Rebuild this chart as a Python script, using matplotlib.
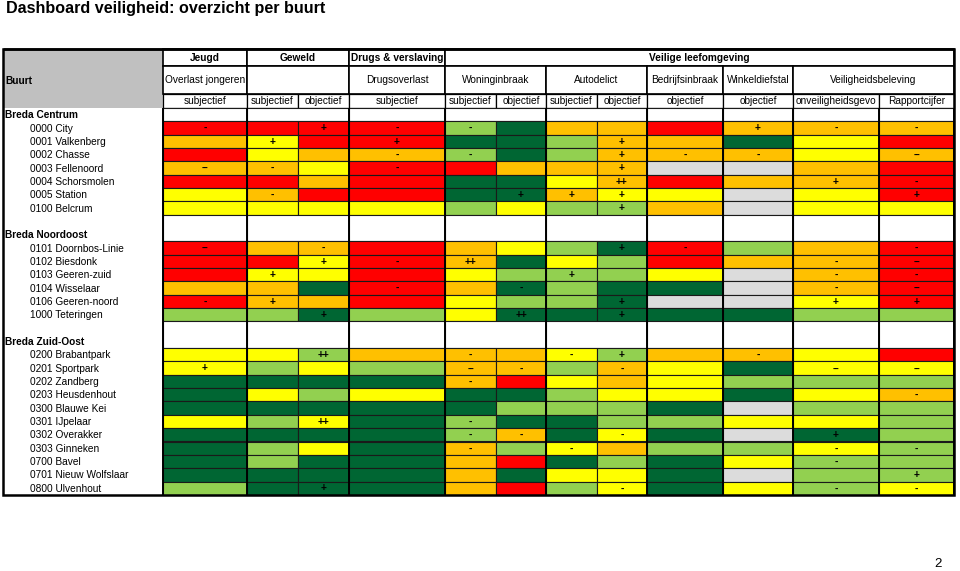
import matplotlib
matplotlib.use("Agg")
import matplotlib.pyplot as plt
from matplotlib.patches import Rectangle

# ---------------- data ----------------
title = "Dashboard veiligheid: overzicht per buurt"
header_label = "Buurt"
themes = ["Jeugd", "Geweld", "Drugs & verslaving", "Veilige leefomgeving"]
theme_spans = [1, 2, 1, 8]
topics = ["Overlast jongeren", "", "Drugsoverlast", "Woninginbraak", "Autodelict",
          "Bedrijfsinbraak", "Winkeldiefstal", "Veiligheidsbeleving"]
topic_spans = [1, 2, 1, 2, 2, 1, 1, 2]
measures = ["subjectief", "subjectief", "objectief", "subjectief", "subjectief", "objectief",
            "subjectief", "objectief", "objectief", "objectief", "onveiligheidsgevo", "Rapportcijfer"]

sections = ["Breda Centrum", "Breda Noordoost", "Breda Zuid-Oost"]

centrum_names = ["0000 City", "0001 Valkenberg", "0002 Chasse", "0003 Fellenoord",
                 "0004 Schorsmolen", "0005 Station", "0100 Belcrum"]
centrum_colors = ["RRRRLGOOROOO",
                  "OYRRGGLOOGYR",
                  "RYOOLGLOOOYO",
                  "OOYRROOOXXOR",
                  "RRORGGYOROOR",
                  "YORRGGOYYXYR",
                  "YYYYLYLLOXYY"]
centrum_signs = [["-", "", "+", "-", "-", "", "", "", "", "+", "-", "-"],
                 ["", "+", "", "+", "", "", "", "+", "", "", "", ""],
                 ["", "", "", "-", "-", "", "", "+", "-", "-", "", "--"],
                 ["--", "-", "", "-", "", "", "", "+", "", "", "", ""],
                 ["", "", "", "", "", "", "", "++", "", "", "+", "-"],
                 ["", "-", "", "", "", "+", "+", "+", "", "", "", "+"],
                 ["", "", "", "", "", "", "", "+", "", "", "", ""]]

noordoost_names = ["0101 Doornbos-Linie", "0102 Biesdonk", "0103 Geeren-zuid",
                   "0104 Wisselaar", "0106 Geeren-noord", "1000 Teteringen"]
noordoost_colors = ["ROOROYLGRLOR",
                    "RRYROGYLROOR",
                    "RYYRYLLLYXOR",
                    "OOGROGLGGXOR",
                    "ROORYLLGXXYR",
                    "LLGLYGGGGGLL"]
noordoost_signs = [["--", "", "-", "", "", "", "", "+", "-", "", "", "-"],
                   ["", "", "+", "-", "++", "", "", "", "", "", "-", "--"],
                   ["", "+", "", "", "", "", "+", "", "", "", "-", "-"],
                   ["", "", "", "-", "", "-", "", "", "", "", "-", "--"],
                   ["-", "+", "", "", "", "", "", "+", "", "", "+", "+"],
                   ["", "", "+", "", "", "++", "", "+", "", "", "", ""]]

zuidoost_names = ["0200 Brabantpark", "0201 Sportpark", "0202 Zandberg", "0203 Heusdenhout",
                  "0300 Blauwe Kei", "0301 IJpelaar", "0302 Overakker", "0303 Ginneken",
                  "0700 Bavel", "0701 Nieuw Wolfslaar", "0800 Ulvenhout"]
zuidoost_colors = ["YYLOOOYLOOYR",
                   "YLYLOOLOYGYY",
                   "GGGGORYOYLLL",
                   "GYLYGGLYYGYO",
                   "GGGGGLLLGXLL",
                   "YLYGLGGLLYYL",
                   "GGGGLOGYGXGL",
                   "GLYGOLYOLLYL",
                   "GLGGORGLGYLL",
                   "GGGGOGYYGXLL",
                   "LGGGORLYGYLY"]
zuidoost_signs = [["", "", "++", "", "-", "", "-", "+", "", "-", "", ""],
                  ["+", "", "", "", "--", "-", "", "-", "", "", "--", "--"],
                  ["", "", "", "", "-", "", "", "", "", "", "", ""],
                  ["", "", "", "", "", "", "", "", "", "", "", "-"],
                  ["", "", "", "", "", "", "", "", "", "", "", ""],
                  ["", "", "++", "", "-", "", "", "", "", "", "", ""],
                  ["", "", "", "", "-", "-", "", "-", "", "", "+", ""],
                  ["", "", "", "", "-", "", "-", "", "", "", "-", "-"],
                  ["", "", "", "", "", "", "", "", "", "", "-", ""],
                  ["", "", "", "", "", "", "", "", "", "", "", "+"],
                  ["", "", "+", "", "", "", "", "-", "", "", "-", "-"]]

page_number = "2"

# ---------------- style / layout ----------------
palette = {"R": "#FF0000", "O": "#FFC000", "Y": "#FFFF00", "L": "#92D050",
           "G": "#006633", "X": "#DCDCDC"}
FONT = "Liberation Sans"
W, H = 960, 571
left = 3
col_edges = [163, 247, 298, 349, 445, 496, 546, 597, 647, 723, 793, 879, 954]
group_lines = [163, 247, 349, 445, 546, 647, 723, 793, 879, 954]
head_y = [49, 66, 94, 108]
row_h = 13.34
body_top = head_y[-1]

fig = plt.figure(figsize=(W / 100, H / 100), dpi=100)
ax = fig.add_axes([0, 0, 1, 1])
ax.set_xlim(0, W)
ax.set_ylim(H, 0)
ax.axis("off")

def rect(x0, y0, x1, y1, fc, lw=0.8, ec="#1a1a1a", z=1):
    ax.add_patch(Rectangle((x0, y0), x1 - x0, y1 - y0, facecolor=fc, edgecolor=ec,
                           linewidth=lw, zorder=z))

# title
ax.text(6, 12.5, title, fontsize=11.6, fontweight="bold", family=FONT, va="baseline", ha="left")

# header: Buurt cell
rect(left, head_y[0], col_edges[0], head_y[3], "#C0C0C0", lw=0)
ax.text(5, (head_y[1] + head_y[2]) / 2 + 0.5, header_label, fontsize=7.3, fontweight="bold",
        family=FONT, va="center", ha="left")

# header row 1 (themes)
ci = 0
for name, span in zip(themes, theme_spans):
    x0, x1 = col_edges[ci], col_edges[ci + span]
    rect(x0, head_y[0], x1, head_y[1], "white", lw=1.2, ec="black")
    ax.text((x0 + x1) / 2, (head_y[0] + head_y[1]) / 2 + 0.5, name, fontsize=7.3,
            fontweight="bold", family=FONT, ha="center", va="center")
    ci += span

# header row 2 (topics)
ci = 0
for name, span in zip(topics, topic_spans):
    x0, x1 = col_edges[ci], col_edges[ci + span]
    rect(x0, head_y[1], x1, head_y[2], "white", lw=1.2, ec="black")
    ax.text((x0 + x1) / 2, (head_y[1] + head_y[2]) / 2, name, fontsize=7.3,
            family=FONT, ha="center", va="center")
    ci += span

# header row 3 (measures)
for i, name in enumerate(measures):
    x0, x1 = col_edges[i], col_edges[i + 1]
    rect(x0, head_y[2], x1, head_y[3], "white", lw=0.9, ec="black")
    ax.text((x0 + x1) / 2, (head_y[2] + head_y[3]) / 2 + 0.5, name, fontsize=7.3,
            family=FONT, ha="center", va="center")

# body
blocks = [(centrum_names, centrum_colors, centrum_signs),
          (noordoost_names, noordoost_colors, noordoost_signs),
          (zuidoost_names, zuidoost_colors, zuidoost_signs)]

row = 0
for si, (sec, (names, colors, signs)) in enumerate(zip(sections, blocks)):
    n_white = 1 if si == 0 else 2
    y0 = body_top + row * row_h
    y1 = y0 + n_white * row_h
    ci = 0
    for span in topic_spans[:-1] + [1, 1]:
        x0, x1 = col_edges[ci], col_edges[ci + span]
        rect(x0, y0, x1, y1, "white", lw=0.8)
        ci += span
    ax.text(5, y1 - row_h / 2 + 0.5, sec, fontsize=7.3, fontweight="bold", family=FONT,
            ha="left", va="center")
    row += n_white
    for name, crow, srow in zip(names, colors, signs):
        y0 = body_top + row * row_h
        yc = y0 + row_h / 2
        ax.text(30, yc + 0.5, name, fontsize=7.3, family=FONT, ha="left", va="center")
        for i, (c, s) in enumerate(zip(crow, srow)):
            x0, x1 = col_edges[i], col_edges[i + 1]
            rect(x0, y0, x1, y0 + row_h, palette[c], lw=0.8)
            if s:
                ax.text((x0 + x1) / 2, yc + 0.3, s, fontsize=7.3, fontweight="bold",
                        family=FONT, ha="center", va="center", color="black", zorder=3)
        row += 1

body_bottom = body_top + row * row_h

# thick group lines in the body
ax.vlines(group_lines, body_top, body_bottom, colors="black", linewidth=1.4, zorder=2)
# outer border
ax.add_patch(Rectangle((left, head_y[0]), col_edges[-1] - left, body_bottom - head_y[0],
                       facecolor="none", edgecolor="black", linewidth=1.8, zorder=4))
ax.hlines(head_y[0], left, col_edges[-1], colors="black", linewidth=1.8, zorder=4)

# page number
ax.text(938, 564, page_number, fontsize=9.5, family=FONT, ha="center", va="center")

fig.savefig("out.png", dpi=100)
